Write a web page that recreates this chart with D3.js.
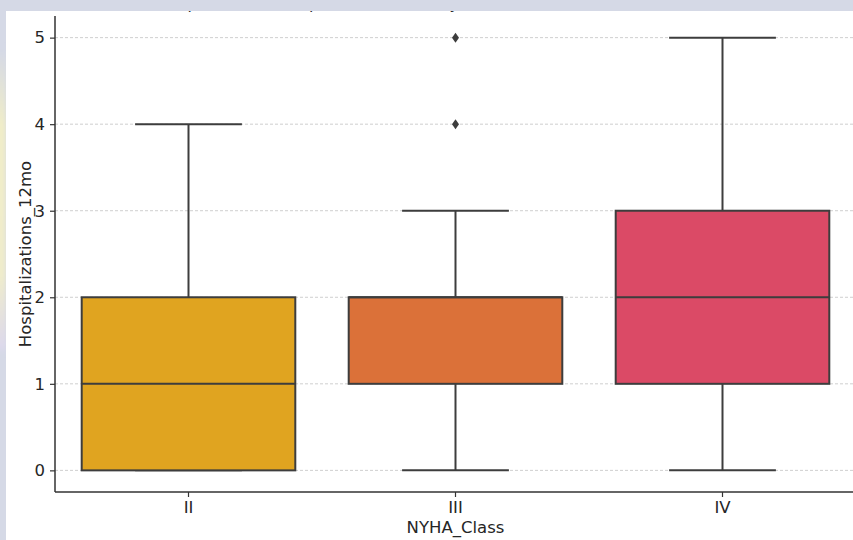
<!DOCTYPE html>
<html>
<head>
<meta charset="utf-8">
<script src="https://cdn.jsdelivr.net/npm/d3@7"></script>
<style>
  html, body { margin: 0; padding: 0; background: #d5d9e6; }
  svg { display: block; font-family: "DejaVu Sans", sans-serif; }
</style>
</head>
<body>
<svg id="chart" width="853" height="540"></svg>
<script>
// Hospitalizations in the last 12 months, summarised per NYHA class
const classes = ["II", "III", "IV"];
const q1 = [0, 1, 1];
const medians = [1, 2, 2];
const q3 = [2, 2, 3];
const whiskerLow = [0, 0, 0];
const whiskerHigh = [4, 3, 5];
const outliers = [[], [4, 5], []];
const boxColors = ["#e0a420", "#db7139", "#db4a66"];
const yTicks = [0, 1, 2, 3, 4, 5];

const svg = d3.select("#chart");
const W = 853, H = 540;
const margin = { left: 55, top: 16, bottom: 48 };
const plotRight = 856;
const fontSize = "16.5px";

// page backdrop and white figure panel
svg.append("rect").attr("width", W).attr("height", H).attr("fill", "#d5d9e6");
const defs = svg.append("defs");
defs.append("filter").attr("id", "soft")
  .append("feGaussianBlur").attr("stdDeviation", 3);
const lg = defs.append("linearGradient").attr("id", "haze")
  .attr("x1", 0).attr("y1", 0).attr("x2", 0).attr("y2", 1);
lg.append("stop").attr("offset", "0%").attr("stop-color", "#d5d9e6");
lg.append("stop").attr("offset", "25%").attr("stop-color", "#f4f0c4");
lg.append("stop").attr("offset", "75%").attr("stop-color", "#f3efc8");
lg.append("stop").attr("offset", "100%").attr("stop-color", "#ddd8ee");
svg.append("rect").attr("x", -4).attr("y", 50).attr("width", 10).attr("height", 300)
  .attr("fill", "url(#haze)").attr("filter", "url(#soft)");

svg.append("rect").attr("x", 6).attr("y", 11).attr("width", W - 6).attr("height", H - 11)
  .attr("fill", "#ffffff");

const x = d3.scaleBand().domain(classes).range([margin.left, plotRight]).paddingInner(0).paddingOuter(0);
const y = d3.scaleLinear().domain([-0.25, 5.25]).range([H - margin.bottom, margin.top]);

const boxW = x.bandwidth() * 0.8;
const capW = boxW / 2;
const lineCol = "#3d3d3d";

// horizontal grid
svg.append("g").selectAll("line").data(yTicks).join("line")
  .attr("x1", margin.left).attr("x2", plotRight)
  .attr("y1", d => y(d)).attr("y2", d => y(d))
  .attr("stroke", "#cfcfcf").attr("stroke-width", 1)
  .attr("stroke-dasharray", "3,2");

// boxes
const g = svg.append("g");
classes.forEach((c, i) => {
  const cx = x(c) + x.bandwidth() / 2;
  // whiskers
  g.append("line").attr("x1", cx).attr("x2", cx)
    .attr("y1", y(q3[i])).attr("y2", y(whiskerHigh[i]))
    .attr("stroke", lineCol).attr("stroke-width", 2);
  g.append("line").attr("x1", cx).attr("x2", cx)
    .attr("y1", y(q1[i])).attr("y2", y(whiskerLow[i]))
    .attr("stroke", lineCol).attr("stroke-width", 2);
  // caps
  [whiskerLow[i], whiskerHigh[i]].forEach(v => {
    g.append("line").attr("x1", cx - capW / 2).attr("x2", cx + capW / 2)
      .attr("y1", y(v)).attr("y2", y(v))
      .attr("stroke", lineCol).attr("stroke-width", 2);
  });
  // box body
  g.append("rect")
    .attr("x", cx - boxW / 2).attr("width", boxW)
    .attr("y", y(q3[i])).attr("height", y(q1[i]) - y(q3[i]))
    .attr("fill", boxColors[i]).attr("stroke", lineCol).attr("stroke-width", 2);
  // median
  g.append("line").attr("x1", cx - boxW / 2).attr("x2", cx + boxW / 2)
    .attr("y1", y(medians[i])).attr("y2", y(medians[i]))
    .attr("stroke", lineCol).attr("stroke-width", 2);
  // fliers
  outliers[i].forEach(v => {
    g.append("path")
      .attr("d", `M${cx},${y(v) - 5}L${cx + 3.5},${y(v)}L${cx},${y(v) + 5}L${cx - 3.5},${y(v)}Z`)
      .attr("fill", lineCol);
  });
});

// axes
const yAxis = svg.append("g").attr("transform", `translate(${margin.left},0)`)
  .call(d3.axisLeft(y).tickValues(yTicks).tickFormat(d3.format("d")).tickSize(5).tickPadding(5));
const xAxis = svg.append("g").attr("transform", `translate(0,${H - margin.bottom})`)
  .call(d3.axisBottom(x).tickSize(5).tickPadding(4));
[yAxis, xAxis].forEach(a => {
  a.select(".domain").attr("stroke", "#333").attr("stroke-width", 1.5);
  a.selectAll(".tick line").attr("stroke", "#333").attr("stroke-width", 1.2);
  a.selectAll(".tick text").attr("fill", "#262626").style("font-size", fontSize)
    .style("font-family", "DejaVu Sans, sans-serif");
});
yAxis.select(".domain").attr("d", `M0,${y(5.25)}V${y(-0.25)}`);
xAxis.select(".domain").attr("d", `M${margin.left},0H${plotRight}`);

// axis titles
svg.append("text")
  .attr("x", (margin.left + plotRight) / 2).attr("y", 533)
  .attr("text-anchor", "middle").attr("fill", "#262626")
  .style("font-size", fontSize).text("NYHA_Class");
svg.append("text")
  .attr("transform", `translate(31,${(y(5.25) + y(-0.25)) / 2}) rotate(-90)`)
  .attr("text-anchor", "middle").attr("fill", "#262626")
  .style("font-size", fontSize).text("Hospitalizations_12mo");

// chart title, mostly hidden under the top band
svg.append("text")
  .attr("x", (margin.left + plotRight) / 2 - 100).attr("y", 9)
  .attr("text-anchor", "middle").attr("fill", "#262626")
  .style("font-size", "16px").text("Hospitalizations in past 12 months by NYHA class");
svg.append("rect").attr("x", 0).attr("y", 0).attr("width", W).attr("height", 11).attr("fill", "#d5d9e6");
</script>
</body>
</html>
